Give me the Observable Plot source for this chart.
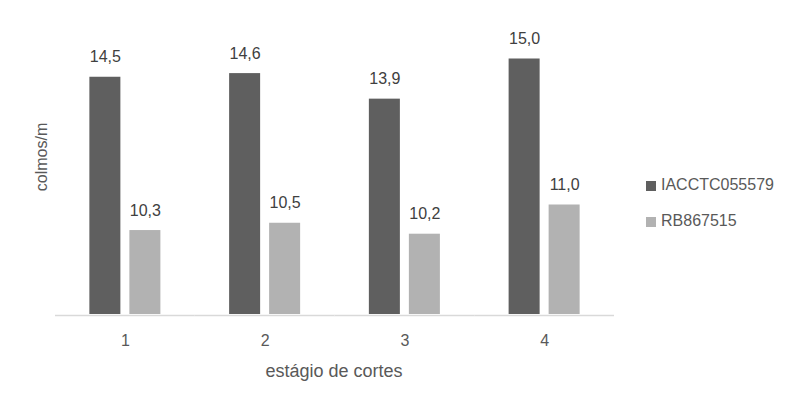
<!DOCTYPE html>
<html>
<head>
<meta charset="utf-8">
<script src="https://cdn.jsdelivr.net/npm/d3@7"></script>
<script src="https://cdn.jsdelivr.net/npm/@observablehq/plot@0.6"></script>
<style>
  html, body { margin: 0; padding: 0; background: #fff; }
  #wrap { position: relative; width: 794px; height: 407px; font-family: "Liberation Sans", Arial, sans-serif; color: #595959; }
  #wrap svg { position: absolute; left: 0; top: 0; }
  .ytitle { position: absolute; left: 42px; top: 157px; font-size: 16px; white-space: nowrap; transform: translate(-50%, -50%) rotate(-90deg); line-height: 1; }
  .xtitle { position: absolute; left: 334px; top: 362px; font-size: 18px; white-space: nowrap; transform: translateX(-50%); line-height: 1; }
  .legend { position: absolute; left: 646px; font-size: 16px; line-height: 1; }
  .legend .item { position: absolute; left: 0; white-space: nowrap; }
  .legend .sw { position: absolute; left: 0; width: 10px; height: 10px; }
  .legend .lbl { position: absolute; left: 15px; }
</style>
</head>
<body>
<div id="wrap"></div>
<script>
const cortes = ["1", "2", "3", "4"];
const series = ["IACCTC055579", "RB867515"];
const iacValues = [14.5, 14.6, 13.9, 15.0];
const rbValues = [10.3, 10.5, 10.2, 11.0];
const colors = ["#5f5f5f", "#b2b2b2"];
const yDomain = [8, 16];

const data = [];
cortes.forEach((c, i) => {
  data.push({corte: c, serie: series[0], valor: iacValues[i]});
  data.push({corte: c, serie: series[1], valor: rbValues[i]});
});
const fmt = d => d.toFixed(1).replace(".", ",");

const chart = Plot.plot({
  width: 794,
  height: 407,
  marginLeft: 55,
  marginRight: 180,
  marginTop: 22,
  marginBottom: 93,
  style: {fontFamily: "'Liberation Sans', Arial, sans-serif", fontSize: "16px", color: "#595959", background: "transparent"},
  fx: {domain: cortes, padding: 0, round: false, label: null, axis: "bottom", tickSize: 0, tickPadding: 20},
  x: {domain: series, axis: null, round: false, paddingInner: 0.225, paddingOuter: 0.859},
  y: {domain: yDomain, axis: null},
  color: {domain: series, range: colors},
  marks: [
    Plot.barY(data, {fx: "corte", x: "serie", y1: yDomain[0], y2: "valor", fill: "serie"}),
    Plot.ruleY([yDomain[0]], {stroke: "#d9d9d9", strokeWidth: 1.5, dy: 1}),
    Plot.text(data, {fx: "corte", x: "serie", y: "valor", text: d => fmt(d.valor), dy: -20, fill: "#404040", fontSize: 16})
  ]
});

const wrap = document.getElementById("wrap");
wrap.appendChild(chart);

const yt = document.createElement("div");
yt.className = "ytitle";
yt.textContent = "colmos/m";
wrap.appendChild(yt);

const xt = document.createElement("div");
xt.className = "xtitle";
xt.textContent = "estágio de cortes";
wrap.appendChild(xt);

const legend = document.createElement("div");
legend.className = "legend";
legend.style.top = "0px";
const legendTops = [181, 217];
series.forEach((s, i) => {
  const item = document.createElement("div");
  item.className = "item";
  item.style.top = legendTops[i] + "px";
  const sw = document.createElement("div");
  sw.className = "sw";
  sw.style.background = colors[i];
  const lbl = document.createElement("div");
  lbl.className = "lbl";
  lbl.style.top = "-4px";
  lbl.textContent = s;
  item.appendChild(sw);
  item.appendChild(lbl);
  legend.appendChild(item);
});
wrap.appendChild(legend);
</script>
</body>
</html>
